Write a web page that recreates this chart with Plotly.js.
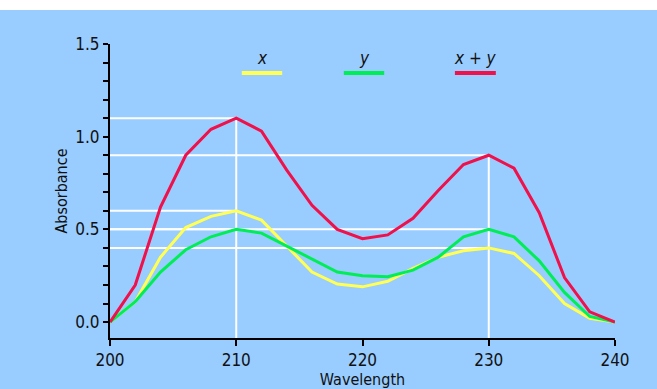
<!DOCTYPE html>
<html>
<head>
<meta charset="utf-8">
<script src="https://cdn.plot.ly/plotly-3.0.1.min.js"></script>
<style>
html,body{margin:0;padding:0;background:#ffffff;}
#chart{position:absolute;left:0;top:10px;width:657px;height:379px;}
</style>
</head>
<body>
<div id="chart"></div>
<script>
const wavelength = [200,202,204,206,208,210,212,214,216,218,220,222,224,226,228,230,232,234,236,238,240];
const seriesX  = [0,0.11,0.35,0.51,0.57,0.60,0.55,0.41,0.27,0.205,0.19,0.22,0.29,0.35,0.385,0.40,0.37,0.25,0.10,0.02,0];
const seriesY  = [0,0.11,0.27,0.39,0.46,0.50,0.48,0.41,0.34,0.27,0.25,0.245,0.28,0.35,0.46,0.50,0.46,0.33,0.16,0.03,0];
const seriesXY = [0,0.20,0.62,0.90,1.04,1.10,1.03,0.82,0.63,0.50,0.45,0.47,0.56,0.71,0.85,0.90,0.83,0.59,0.24,0.055,0];
const seriesNames = ['x','y','x + y'];
const seriesColors = ['#FFFF55','#00EE55','#F0104A'];
const xTicks = [200,210,220,230,240];
const yTicks = [0,0.5,1.0,1.5];
const yTickText = ['0.0','0.5','1.0','1.5'];
const markedWavelengths = [210,230];

const FONT = '"DejaVu Sans Condensed", "Liberation Sans Narrow", "Arial Narrow", "Liberation Sans", Arial, sans-serif';
const allSeries = [seriesX, seriesY, seriesXY];

const traces = allSeries.map((s,i)=>({
  x: wavelength, y: s, type:'scatter', mode:'lines', name: seriesNames[i],
  line:{color: seriesColors[i], width:3}, showlegend:false, cliponaxis:false
}));

const shapes = [];
const yMin = -0.086;
markedWavelengths.forEach(w=>{
  const idx = wavelength.indexOf(w);
  const vals = allSeries.map(s=>s[idx]);
  const top = Math.max(...vals);
  shapes.push({type:'line', xref:'x', yref:'y', x0:w, x1:w, y0:yMin, y1:top, line:{color:'#ffffff', width:2}, layer:'below'});
  vals.forEach(v=>{
    shapes.push({type:'line', xref:'x', yref:'y', x0:wavelength[0], x1:w, y0:v, y1:v, line:{color:'#ffffff', width:2}, layer:'below'});
  });
});

// custom legend
const legendX = [[0.261,0.341],[0.463,0.543],[0.683,0.764]];
const annotations = [];
seriesNames.forEach((n,i)=>{
  shapes.push({type:'line', xref:'paper', yref:'paper', x0:legendX[i][0], x1:legendX[i][1], y0:0.901, y1:0.901, line:{color:seriesColors[i], width:4}});
  annotations.push({xref:'paper', yref:'paper', x:(legendX[i][0]+legendX[i][1])/2, y:0.912, yanchor:'bottom', xanchor:'center', showarrow:false,
    text:'<i>'+n+'</i>', font:{family:FONT, size:17, color:'#111111'}});
});

const layout = {
  width:657, height:379,
  margin:{l:110, r:42, t:34, b:51},
  paper_bgcolor:'#99CCFF', plot_bgcolor:'#99CCFF',
  font:{family:FONT, size:16, color:'#111111'},
  xaxis:{range:[200,240], tickvals:xTicks, ticktext:xTicks.map(String), ticks:'outside', ticklen:6, tickwidth:2, tickcolor:'#000',
    showline:true, linecolor:'#000', linewidth:2, showgrid:false, zeroline:false,
    title:{text:'Wavelength', font:{family:FONT, size:16, color:'#111'}, standoff:0}, tickfont:{family:FONT,size:17,color:'#111'}},
  yaxis:{range:[yMin,1.5], tickvals:yTicks, ticktext:yTickText, ticks:'outside', ticklen:5, tickwidth:2, tickcolor:'#000',
    minor:{dtick:0.1, tick0:0, ticks:'outside', ticklen:5, tickwidth:2, tickcolor:'#000', showgrid:false},
    showline:true, linecolor:'#000', linewidth:2, showgrid:false, zeroline:false,
    title:{text:'Absorbance', font:{family:FONT, size:16, color:'#111'}, standoff:4}, tickfont:{family:FONT,size:17,color:'#111'}},
  shapes: shapes,
  annotations: annotations
};

Plotly.newPlot('chart', traces, layout, {displayModeBar:false, staticPlot:true});
</script>
</body>
</html>
